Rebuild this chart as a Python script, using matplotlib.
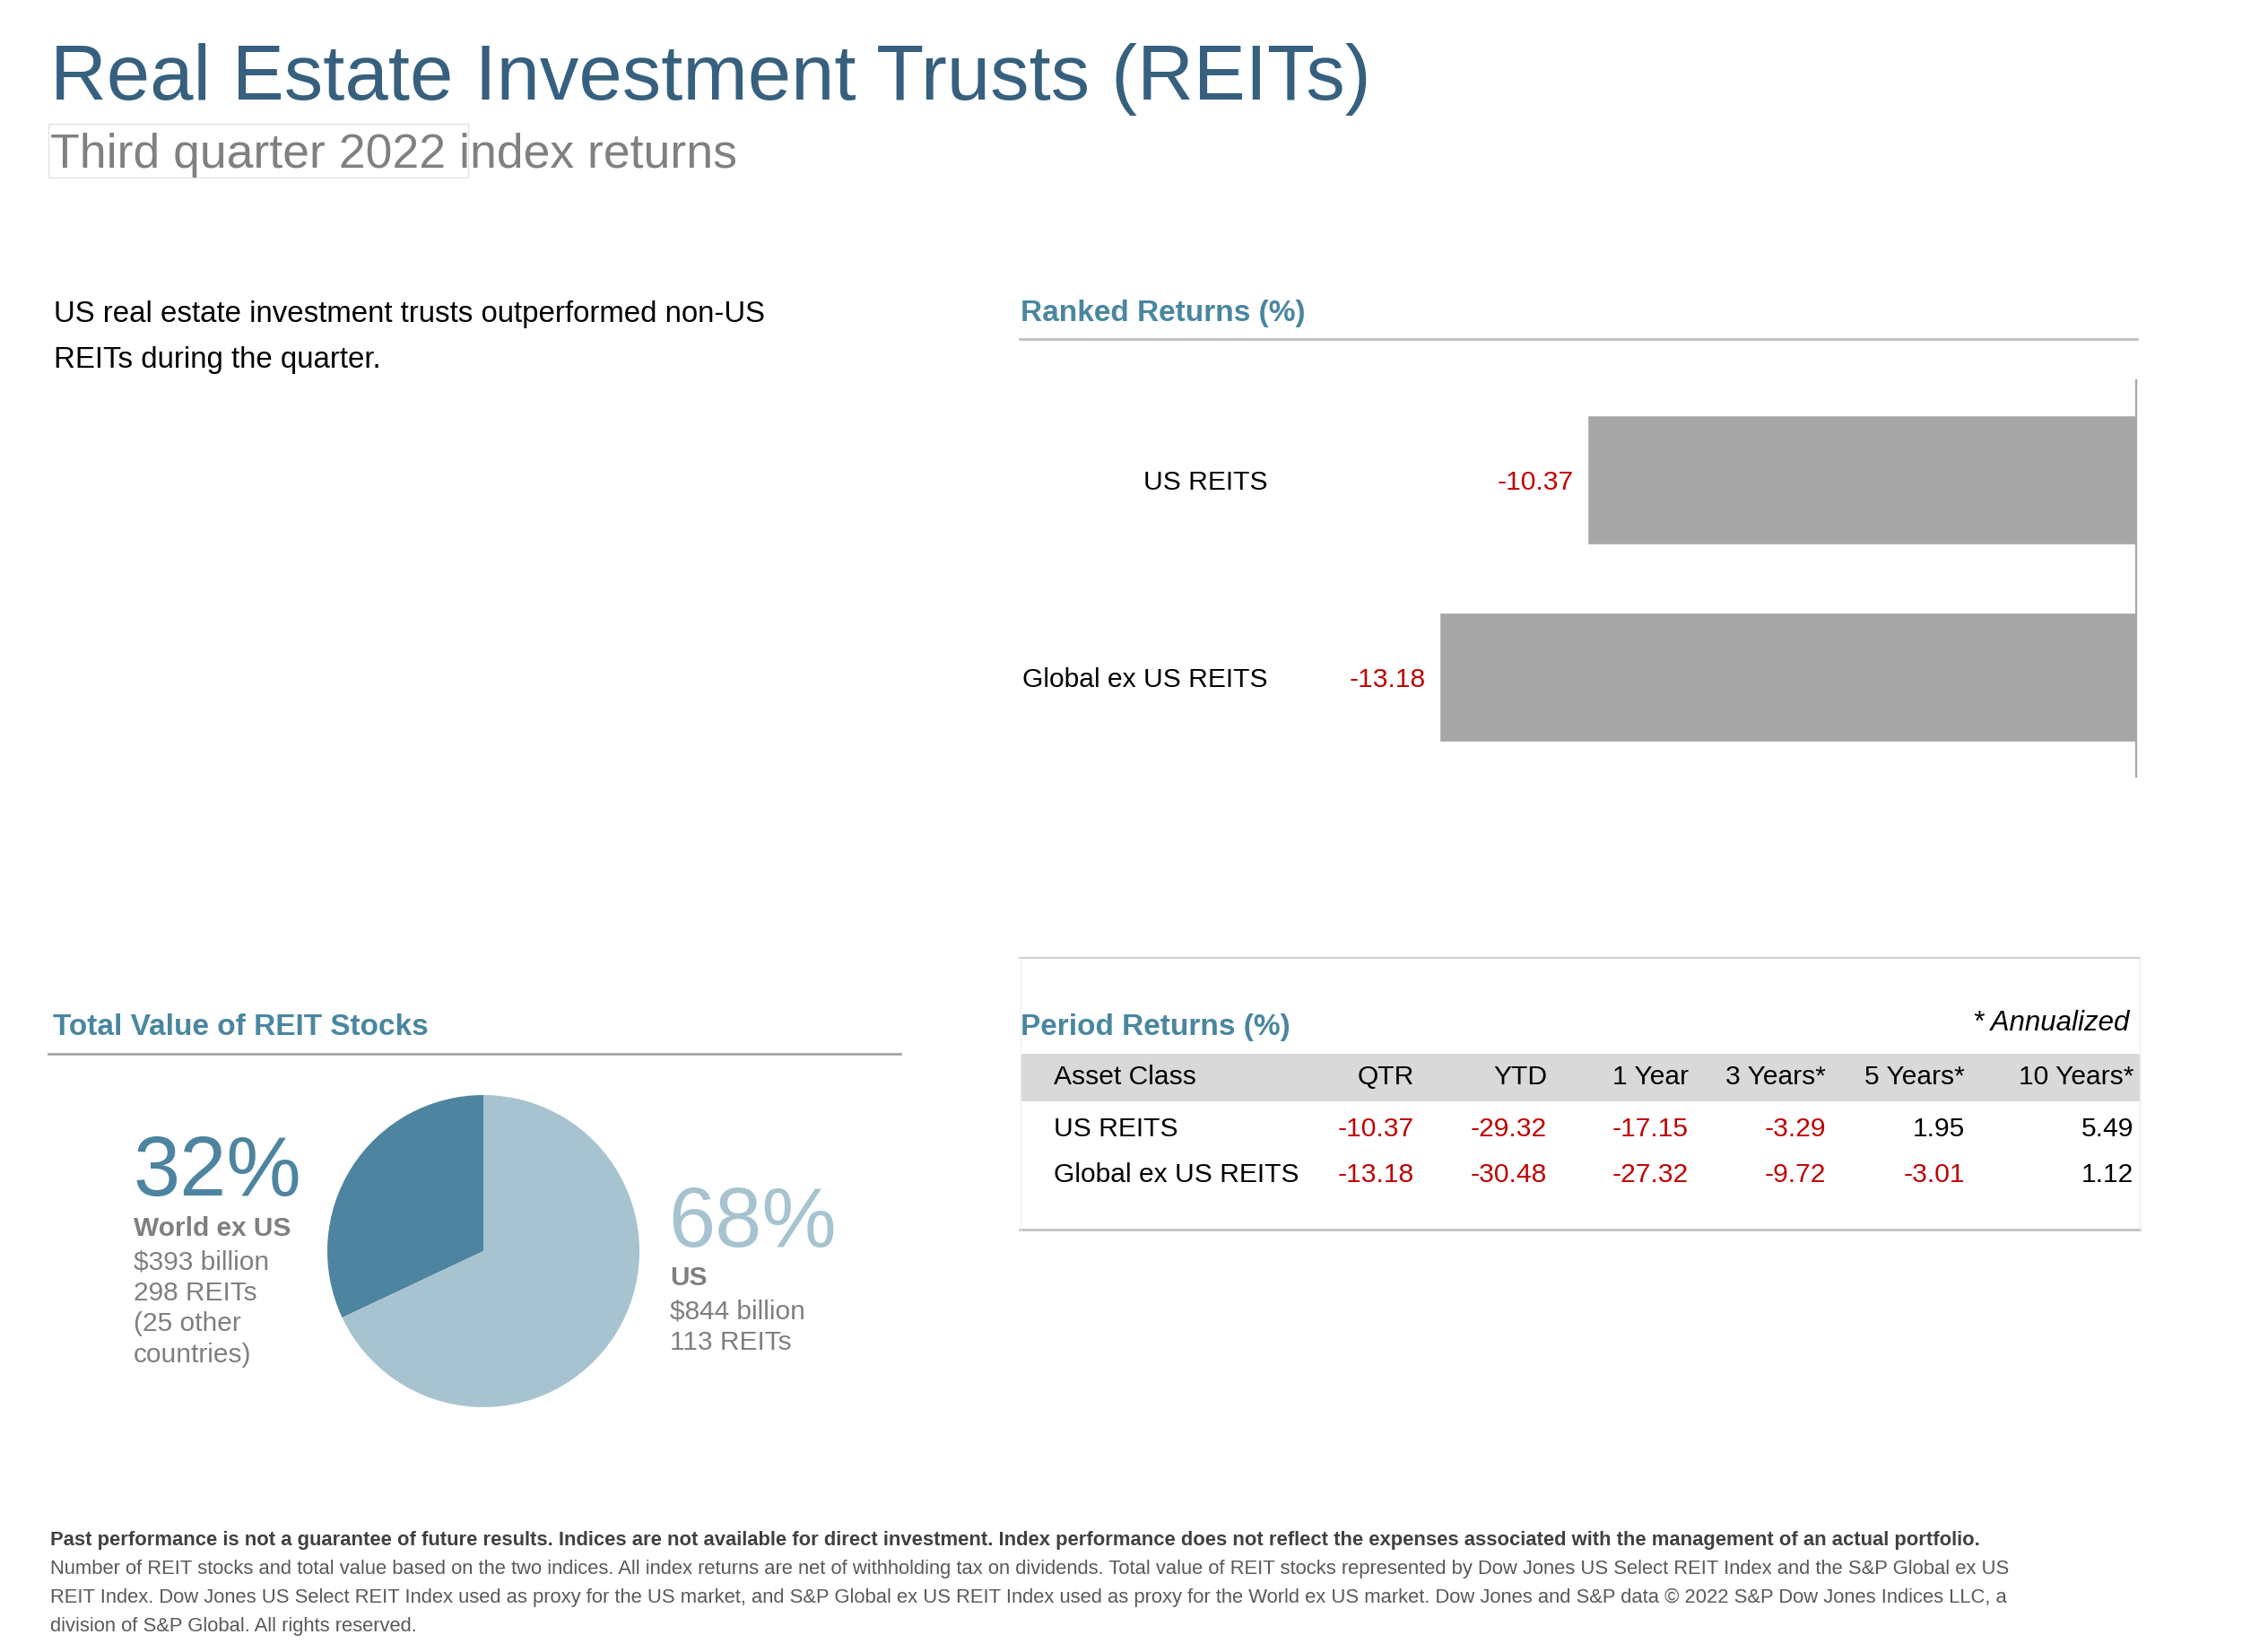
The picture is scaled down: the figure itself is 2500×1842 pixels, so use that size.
import matplotlib.pyplot as plt
from matplotlib.patches import Rectangle
from matplotlib.lines import Line2D

plt.rcParams['font.family'] = ['Liberation Sans', 'DejaVu Sans']

# ----- data
bar_labels = ['US REITS', 'Global ex US REITS']
bar_values = [-10.37, -13.18]

pie_labels = ['World ex US', 'US']
pie_shares = [32, 68]
pie_details = [['$393 billion', '298 REITs', '(25 other', 'countries)'],
               ['$844 billion', '113 REITs']]

table_header = ['Asset Class', 'QTR', 'YTD', '1 Year', '3 Years*', '5 Years*', '10 Years*']
table_rows = ['US REITS', 'Global ex US REITS']
table_values = [[-10.37, -29.32, -17.15, -3.29, 1.95, 5.49],
                [-13.18, -30.48, -27.32, -9.72, -3.01, 1.12]]

footnote_bold = ('Past performance is not a guarantee of future results. Indices are not available for direct '
                 'investment. Index performance does not reflect the expenses associated with the management '
                 'of an actual portfolio.')
footnote_lines = [
    'Number of REIT stocks and total value based on the two indices. All index returns are net of withholding '
    'tax on dividends. Total value of REIT stocks represented by Dow Jones US Select REIT Index and the S&P Global ex US',
    'REIT Index. Dow Jones US Select REIT Index used as proxy for the US market, and S&P Global ex US REIT Index '
    'used as proxy for the World ex US market. Dow Jones and S&P data \u00a9 2022 S&P Dow Jones Indices LLC, a',
    'division of S&P Global. All rights reserved.']

# colours
TITLE_BLUE = '#36607E'
HEAD_BLUE = '#4A86A0'
DARK_SLICE = '#4D84A0'
LIGHT_SLICE = '#A6C3CF'
GREY_TEXT = '#7F7F7F'
RED = '#C00000'

W, H = 2500, 1842
fig = plt.figure(figsize=(W / 100, H / 100), dpi=100)


def fx(x):
    return x / W


def fy(y):
    return 1 - y / H


def txt(x, y, s, size, **kw):
    kw.setdefault('va', 'baseline')
    fig.text(fx(x), fy(y), s, fontsize=size, **kw)


def hline(x0, x1, y, color='#BFBFBF', lw=2.0):
    fig.add_artist(Line2D([fx(x0), fx(x1)], [fy(y), fy(y)], color=color, lw=lw,
                          transform=fig.transFigure))


def vline(x, y0, y1, color='#EEEEEE', lw=1.0):
    fig.add_artist(Line2D([fx(x), fx(x)], [fy(y0), fy(y1)], color=color, lw=lw,
                          transform=fig.transFigure))


# ----- titles
txt(56, 111, 'Real Estate Investment Trusts (REITs)', 62.6, color=TITLE_BLUE)
txt(56, 187, 'Third quarter 2022 index returns', 38.5, color='#808080')
fig.add_artist(Rectangle((fx(54), fy(198)), fx(522) - fx(54), fy(138) - fy(198),
                         transform=fig.transFigure, fill=False, ec='#E3E3E3', lw=1.0))

txt(60, 359, 'US real estate investment trusts outperformed non-US', 23.8, color='black')
txt(60, 410, 'REITs during the quarter.', 23.8, color='black')

# ----- ranked returns bar chart
txt(1138, 358, 'Ranked Returns (%)', 24, color=HEAD_BLUE, fontweight='bold')
hline(1137, 2383, 378)

ax = fig.add_axes([fx(1440), fy(866), fx(2382) - fx(1440), fy(424) - fy(866)])
ypos = list(range(len(bar_values)))
ax.barh(ypos, bar_values, height=0.645, color='#A6A6A6', edgecolor='#B8B8B8', lw=0.8)
ax.set_xlim(-16.0, 0)
ax.set_ylim(1.505, -0.505)
ax.set_yticks(ypos)
ax.set_yticklabels(bar_labels, fontsize=21.6)
ax.tick_params(axis='y', length=0, pad=19)
ax.set_xticks([])
for side in ['top', 'bottom', 'left']:
    ax.spines[side].set_visible(False)
ax.spines['right'].set_color('#A6A6A6')
ax.spines['right'].set_linewidth(1.6)
ax.patch.set_alpha(0)
for y, v in zip(ypos, bar_values):
    ax.annotate(f'{v:.2f}', (v, y), xytext=(-12, 0), textcoords='offset points',
                ha='right', va='center_baseline', fontsize=21.6, color=RED)

# ----- total value pie
txt(59, 1154, 'Total Value of REIT Stocks', 24, color=HEAD_BLUE, fontweight='bold')
hline(54, 1004, 1175, color='#A6A6A6')

r = 174
pax = fig.add_axes([fx(539 - r), fy(1395 + r), fx(2 * r), (2 * r) / H])
pax.pie(pie_shares, colors=[DARK_SLICE, LIGHT_SLICE], startangle=90, counterclock=True,
        wedgeprops=dict(linewidth=0))
pax.set_xlim(-1, 1)
pax.set_ylim(-1, 1)
pax.set_aspect('equal')

txt(148, 1333, f'{pie_shares[0]}%', 67.5, color=DARK_SLICE)
txt(149, 1378, pie_labels[0], 21.5, color=GREY_TEXT, fontweight='bold')
for i, line in enumerate(pie_details[0]):
    txt(149, 1415 + i * 34.5, line, 21.5, color=GREY_TEXT)

txt(745, 1390, f'{pie_shares[1]}%', 67.5, color=LIGHT_SLICE)
txt(747, 1433, pie_labels[1], 21.5, color=GREY_TEXT, fontweight='bold')
for i, line in enumerate(pie_details[1]):
    txt(747, 1470 + i * 34.5, line, 21.5, color=GREY_TEXT)

# ----- period returns table
hline(1137, 2386, 1068, color='#D0D0D0', lw=1.5)
hline(1137, 2386, 1371, color='#BFBFBF', lw=2.0)
vline(1138, 1068, 1371)
vline(2386, 1068, 1371)

txt(1138, 1154, 'Period Returns (%)', 24, color=HEAD_BLUE, fontweight='bold')
txt(2374, 1149, '* Annualized', 22.5, color='black', ha='right', style='italic')

fig.add_artist(Rectangle((fx(1138), fy(1228)), fx(2386) - fx(1138), fy(1175) - fy(1228),
                         transform=fig.transFigure, color='#D9D9D9', lw=0))

col_right = [1577, 1725, 1883, 2036, 2191, 2379]
txt(1175, 1209, table_header[0], 21.6, color='black')
for x, h in zip(col_right, table_header[1:]):
    txt(x, 1209, h, 21.6, color='black', ha='right')

row_base = [1267, 1318]
for yb, name, vals in zip(row_base, table_rows, table_values):
    txt(1175, yb, name, 21.6, color='black')
    for x, v in zip(col_right, vals):
        txt(x, yb, f'{v:.2f}', 21.6, color=RED if v < 0 else 'black', ha='right')

# ----- footnote
txt(56, 1723, footnote_bold, 15.8, color='#404040', fontweight='bold')
for i, line in enumerate(footnote_lines):
    txt(56, 1755 + i * 32, line, 15.8, color='#595959')

fig.savefig('out.png', dpi=100)
